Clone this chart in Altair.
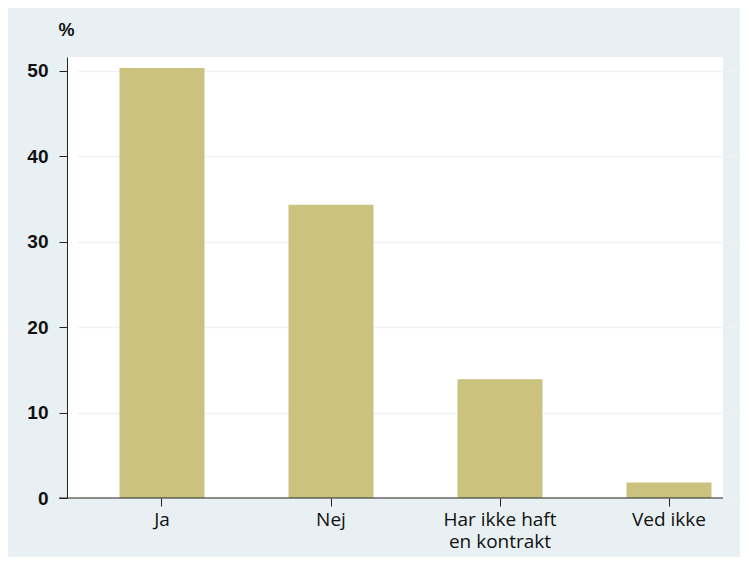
import altair as alt
import pandas as pd

categories = ["Ja", "Nej", "Har ikke haft\nen kontrakt", "Ved ikke"]
values = [50.3, 34.3, 13.9, 1.8]
y_ticks = [0, 10, 20, 30, 40, 50]

df = pd.DataFrame({"cat": categories, "pct": values})

bar_color = "#cbc27f"
bg = "#e9f0f3"

bars = alt.Chart(df).mark_bar(color=bar_color).encode(
    x=alt.X(
        "cat:N",
        sort=categories,
        scale=alt.Scale(range=[10.5, 686.5], paddingInner=0.497, paddingOuter=0.2485),
        axis=alt.Axis(
            title=None,
            labelAngle=0,
            labelExpr="split(datum.label, '\\n')",
            labelFont="Open Sans",
            labelFontSize=19,
            labelColor="#111111",
            labelPadding=4,
            labelLineHeight=22,
            tickSize=8,
            tickColor="#222222",
            domain=False,
            grid=False,
        ),
    ),
    y=alt.Y(
        "pct:Q",
        scale=alt.Scale(domain=[0, 51.6], nice=False),
        axis=alt.Axis(
            title="%",
            titleAngle=0,
            titleX=-1,
            titleY=-27,
            titleAlign="center",
            titleBaseline="middle",
            titleFont="Liberation Sans",
            titleFontSize=18,
            titleFontWeight="bold",
            titleColor="#111111",
            values=y_ticks,
            labelFont="Liberation Sans",
            labelFontSize=19,
            labelFontWeight="bold",
            labelColor="#111111",
            labelPadding=11,
            tickSize=8,
            tickColor="#222222",
            domainColor="#222222",
            grid=True,
            gridColor="#edf2f4",
            gridWidth=1.5,
        ),
    ),
)

xline = alt.Chart(pd.DataFrame({"v": [0]})).mark_rule(color="#222222", strokeWidth=1).encode(
    y="v:Q",
    x=alt.value(-8),
    x2=alt.value(656),
)

chart = alt.layer(bars, xline).properties(
    width=656,
    height=441,
    autosize=alt.AutoSizeParams(type="none"),
    padding={"left": 59, "top": 49, "right": 17, "bottom": 59},
    background=bg,
).configure_view(fill="white", stroke=None)

chart.save("out.html", embed_options={"renderer": "svg", "actions": False})
